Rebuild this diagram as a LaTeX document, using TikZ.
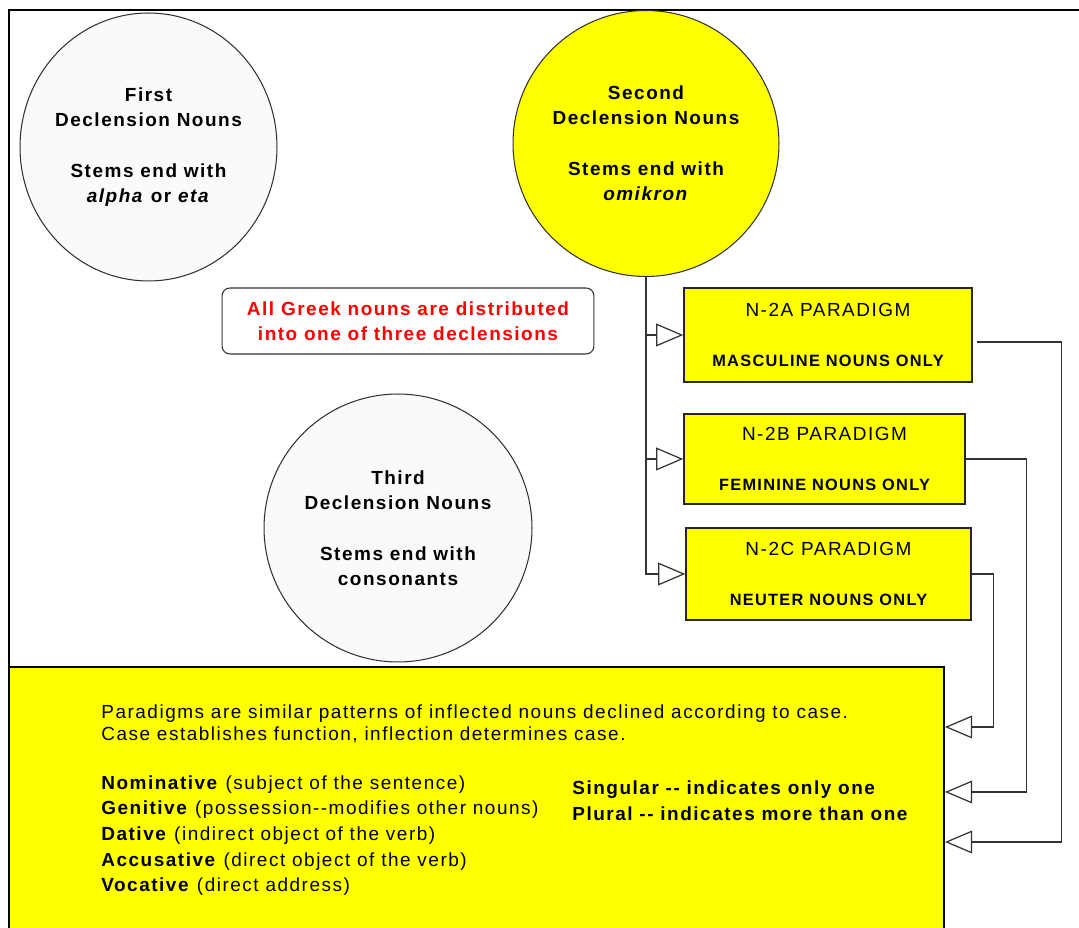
\documentclass[tikz,border=0pt]{standalone}
\usepackage{fontspec}
\setmainfont{Liberation Sans}[LetterSpace=8]
\usetikzlibrary{arrows.meta,shapes.geometric,calc}
\definecolor{paryellow}{RGB}{255,255,0}
\definecolor{circgray}{RGB}{250,250,250}
\definecolor{declred}{RGB}{255,0,0}
\def\basefont{\fontsize{10.8}{14.2}\selectfont}
\def\tagfont{\fontsize{9.3}{14.2}\selectfont\bfseries}
\tikzset{
	declcircle/.style={ellipse, draw=black!80, line width=0.6pt, inner sep=0pt},
	declnote/.style={font=\basefont\bfseries, align=center, inner sep=0pt},
	parabox/.style={rectangle, draw=black!85, fill=paryellow, line width=0.85pt, inner sep=0pt, align=center, font=\basefont},
	link/.style={draw=black!80, line width=0.7pt, -{Triangle[open, length=15.5pt, width=13pt]}},
}

\begin{document}
\begin{tikzpicture}[x=0.02cm, y=-0.02cm]
			%%%%% START %%%%%
			\useasboundingbox (0,0) rectangle (1079,928);
			\clip (0,0) rectangle (1079,928);
			\fill[white] (0,0) rectangle (1079,928);
			
			\draw[line width=1.2pt] (9,940) -- (9,10) -- (1090,10);
			
			% the three declensions
			\node[declcircle, fill=circgray, minimum width=5.14cm, minimum height=5.36cm] (first) at (148.5,147) {};
			\node[declnote] (firsttxt) at (first) {First\\Declension Nouns\\[15pt]Stems end with\\\textit{alpha} or \textit{eta}};
			
			\node[declcircle, fill=paryellow, minimum width=5.32cm, minimum height=5.32cm] (second) at (646,143.5) {};
			\node[declnote] (secondtxt) at (second) {Second\\Declension Nouns\\[15pt]Stems end with\\\textit{omikron}};
			
			\node[declcircle, fill=circgray, minimum width=5.36cm, minimum height=5.36cm] (third) at (398,528) {};
			\node[declnote] (thirdtxt) at (third) {Third\\Declension Nouns\\[15pt]Stems end with\\consonants};
			
			\node[draw=black!80, line width=0.6pt, rounded corners=4.5pt, minimum width=7.44cm, minimum height=1.32cm, inner sep=0pt, align=center, font=\basefont\bfseries, text=declred] (note) at (408,321) {All Greek nouns are distributed\\into one of three declensions};
			
			% paradigms
			\node[parabox, minimum width=5.76cm, minimum height=1.88cm] (pA) at (828,335) {N-2A PARADIGM\\[14.2pt]{\tagfont MASCULINE NOUNS ONLY}};
			\node[parabox, minimum width=5.62cm, minimum height=1.80cm] (pB) at (824.5,459) {N-2B PARADIGM\\[14.2pt]{\tagfont FEMININE NOUNS ONLY}};
			\node[parabox, minimum width=5.70cm, minimum height=1.84cm] (pC) at (828.5,574) {N-2C PARADIGM\\[14.2pt]{\tagfont NEUTER NOUNS ONLY}};
			
			\draw[link] (second.south) |- (pC.west);
			\draw[link] (second.south |- pA.west) -- (pA.west);
			\draw[link] (second.south |- pB.west) -- (pB.west);
			
			% cases
			\node[rectangle, draw=black, fill=paryellow, line width=1.2pt, minimum width=18.7cm, minimum height=5.36cm, inner sep=0pt] (bot) at (476.5,801) {};
			
			\node[anchor=north west, align=left, inner sep=0pt, font=\fontsize{10.8}{13}\selectfont] (paratxt) at (101,704) {Paradigms are similar patterns of inflected nouns declined according to case.\\Case establishes function, inflection determines case.};
			\node[anchor=north west, align=left, inner sep=0pt, font=\fontsize{10.8}{14.6}\selectfont] (casetxt) at (101,775) {\textbf{Nominative} (subject of the sentence)\\\textbf{Genitive} (possession-{}-modifies other nouns)\\\textbf{Dative} (indirect object of the verb)\\\textbf{Accusative} (direct object of the verb)\\\textbf{Vocative} (direct address)};
			\node[anchor=north west, align=left, inner sep=0pt, font=\fontsize{10.8}{15.3}\selectfont\bfseries] (numtxt) at (572,780) {Singular -{}- indicates only one\\Plural -{}- indicates more than one};
			
			\coordinate (inA) at ($(bot.east)+(0,41)$);
			\coordinate (inB) at ($(bot.east)+(0,-9)$);
			\coordinate (inC) at ($(bot.east)+(0,-74)$);
			\draw[link] ([shift={(4,7)}]pA.east) -- ++(85,0) |- (inA);
			\draw[link] (pB.east) -- ++(61,0) |- (inB);
			\draw[link] (pC.east) -- ++(22,0) |- (inC);
			%%%%% END %%%%%
\end{tikzpicture}
\end{document}
